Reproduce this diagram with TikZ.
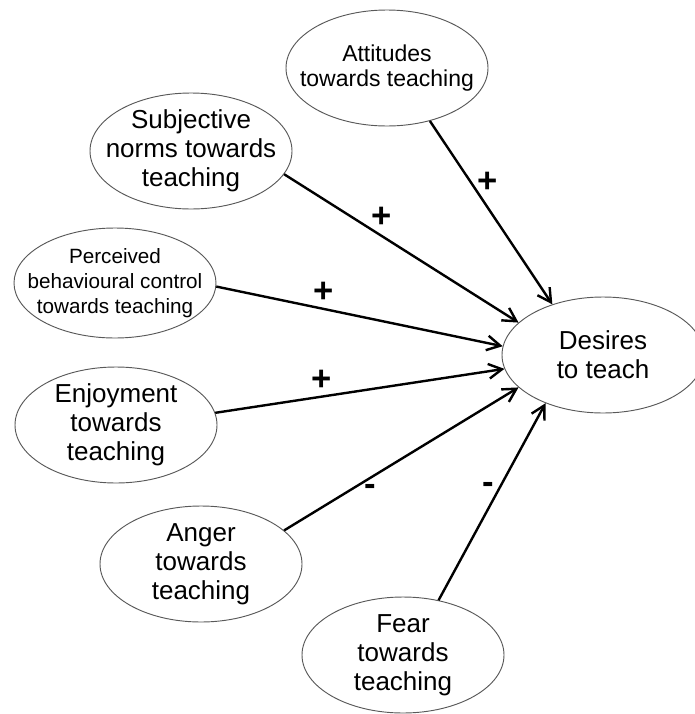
\documentclass[tikz,border=0pt]{standalone}
\usepackage{fontspec}
\setmainfont{Liberation Sans}
\usetikzlibrary{shapes.geometric,arrows.meta}

\begin{document}
\begin{tikzpicture}[x=0.75pt,y=-0.75pt,
  oval/.style={ellipse, draw=black!65, line width=0.7pt, fill=white,
    minimum width=151.5pt, minimum height=87pt, inner sep=0pt},
  lbl/.style={align=center, inner sep=0pt,
    font=\fontsize{19.5}{21.75}\selectfont},
  link/.style={line width=1.8pt,
    -{Straight Barb[length=10pt,width=11pt]}},
  sign/.style={inner sep=0pt, font=\fontsize{26}{26}\selectfont\bfseries}]
\useasboundingbox (0,0) rectangle (695,714);

% construct ellipses
\node[oval] (att)  at (387,68)  {};
\node[oval] (subj) at (191,151) {};
\node[oval, minimum height=82.5pt] (pbc) at (115,283) {};
\node[oval] (enj)  at (116,425) {};
\node[oval] (ang)  at (201,564) {};
\node[oval] (fear) at (403,655) {};
\node[oval] (des)  at (603,355) {};

% their texts
\node[lbl, font=\fontsize{17.25}{18.75}\selectfont] (att-t) at (att) {Attitudes\\towards teaching};
\node[lbl] (subj-t) at (subj) {Subjective\\norms towards\\teaching};
\node[lbl, font=\fontsize{15.5}{18.75}\selectfont] (pbc-t) at (pbc) {Perceived\\behavioural control\\towards teaching};
\node[lbl] (enj-t)  at (enj)  {Enjoyment\\towards\\teaching};
\node[lbl] (ang-t)  at (ang)  {Anger\\towards\\teaching};
\node[lbl] (fear-t) at (fear) {Fear\\towards\\teaching};
\node[lbl] (des-t)  at (des)  {Desires\\to teach};

% paths into the outcome
\draw[link] (att.309)  -- (des.135.5);
\draw[link] (subj.346) -- (des.159);
\draw[link] (pbc.358)  -- (des.175.5);
\draw[link] (enj.7)    -- (des.188);
\draw[link] (ang.22)   -- (des.201.5);
\draw[link] (fear.57)  -- (des.220);

% signs of the effects
\node[sign] (s-att)  at (488,182) {+};
\node[sign] (s-subj) at (382,217) {+};
\node[sign] (s-pbc)  at (324,292) {+};
\node[sign] (s-enj)  at (322,380) {+};
\node[sign] (s-ang)  at (370,490) {-};
\node[sign] (s-fear) at (488,488) {-};
\end{tikzpicture}
\end{document}
